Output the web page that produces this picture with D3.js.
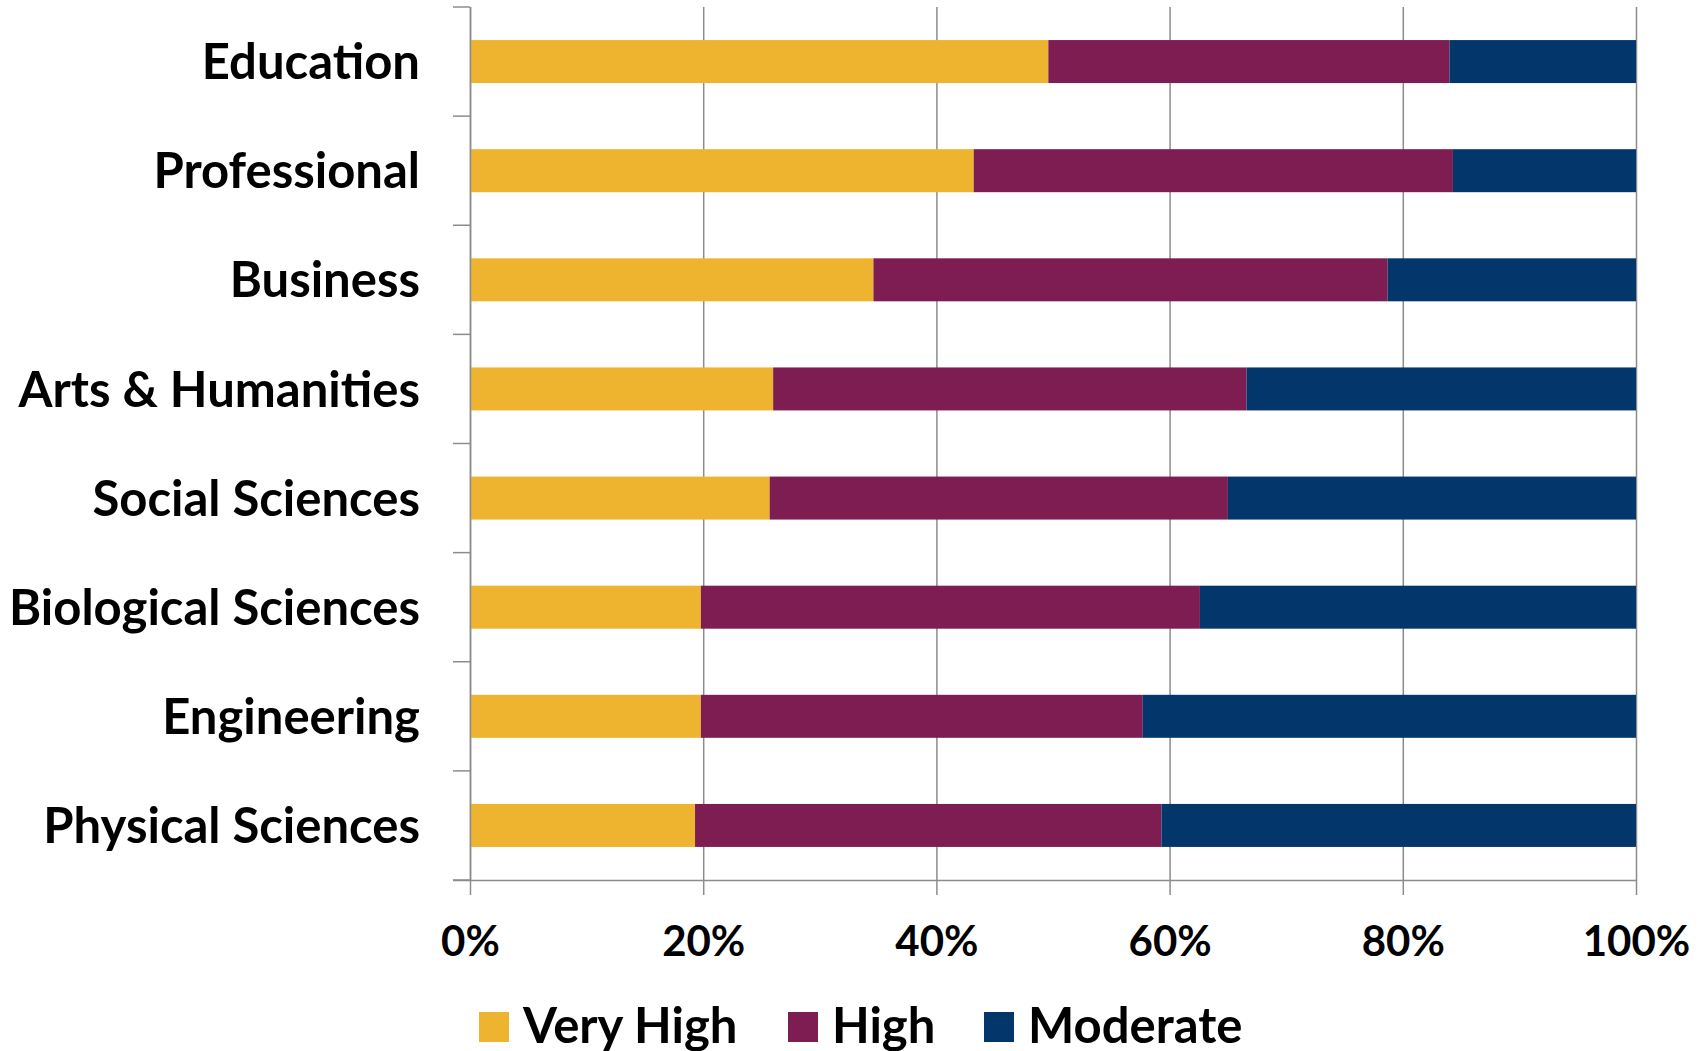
<!DOCTYPE html>
<html>
<head>
<meta charset="utf-8">
<script src="https://cdn.jsdelivr.net/npm/d3@7"></script>
<style>
  html, body { margin: 0; padding: 0; background: #ffffff; }
  svg { display: block; }
  text { font-family: Lato, "Open Sans", sans-serif; font-weight: 700; fill: #000; }
</style>
</head>
<body>
<svg id="chart" width="1707" height="1051"></svg>
<script>
// Share of respondents in each rating, by field of study (percent)
const categories = [
  "Education", "Professional", "Business", "Arts & Humanities",
  "Social Sciences", "Biological Sciences", "Engineering", "Physical Sciences"
];
const veryHigh = [49.6, 43.2, 34.6, 26.0, 25.7, 19.8, 19.8, 19.3];
const high     = [34.4, 41.1, 44.1, 40.6, 39.3, 42.8, 37.9, 40.0];
const moderate = [16.0, 15.7, 21.3, 33.4, 35.0, 37.4, 42.3, 40.7];
const seriesNames = ["Very High", "High", "Moderate"];
const seriesColors = ["#EEB32F", "#7D1D51", "#03376B"];
const xTicks = [0, 20, 40, 60, 80, 100];

const rows = categories.map((c, i) => ({
  category: c, "Very High": veryHigh[i], "High": high[i], "Moderate": moderate[i]
}));

const svg = d3.select("#chart");
const plot = { left: 470, right: 1636, top: 7, bottom: 880 };
const gridColor = "#8C8C8C";

const x = d3.scaleLinear().domain([0, 100]).range([plot.left, plot.right]);
const y = d3.scaleBand().domain(categories)
  .range([plot.top, plot.bottom])
  .paddingInner(0.606).paddingOuter(0.303);
const color = d3.scaleOrdinal().domain(seriesNames).range(seriesColors);

// Vertical gridlines
const grid = svg.append("g")
  .attr("transform", `translate(0,${plot.bottom})`)
  .call(d3.axisBottom(x).tickValues(xTicks)
    .tickSize(-(plot.bottom - plot.top)).tickFormat(""));
grid.select(".domain").remove();
grid.selectAll("line").attr("stroke", gridColor).attr("stroke-width", 1.5);

// Stacked bars
const stacked = d3.stack().keys(seriesNames)(rows);
svg.append("g").selectAll("g")
  .data(stacked).join("g")
  .attr("fill", d => color(d.key))
  .selectAll("rect")
  .data(d => d).join("rect")
  .attr("x", d => x(d[0]))
  .attr("y", d => y(d.data.category))
  .attr("width", d => x(d[1]) - x(d[0]))
  .attr("height", y.bandwidth());

// Bottom axis with percent labels
const xAxis = svg.append("g")
  .attr("transform", `translate(0,${plot.bottom})`)
  .call(d3.axisBottom(x).tickValues(xTicks)
    .tickSize(15).tickSizeOuter(0).tickPadding(31)
    .tickFormat(d => d + "%"));
xAxis.select(".domain").attr("stroke", gridColor).attr("stroke-width", 1.5)
  .attr("d", `M${plot.left - 17},0.5H${plot.right}`);
xAxis.selectAll("line").attr("stroke", gridColor).attr("stroke-width", 1.5);
xAxis.selectAll("text").style("font-size", "42px").style("font-family", "Lato, sans-serif").style("font-weight", 700);

// Left axis: category labels and band-boundary ticks
const yAxis = svg.append("g")
  .attr("transform", `translate(${plot.left},0)`)
  .call(d3.axisLeft(y).tickSize(0).tickPadding(50));
yAxis.select(".domain").attr("stroke", gridColor).attr("stroke-width", 1.5)
  .attr("d", `M0.5,${plot.top}V${plot.bottom}`);
yAxis.selectAll("text")
  .attr("dy", "0.36em")
  .style("font-size", "49px").style("font-family", "Lato, sans-serif").style("font-weight", 700);

const boundaries = d3.range(categories.length + 1).map(i => plot.top + i * y.step());
yAxis.append("g").selectAll("line")
  .data(boundaries).join("line")
  .attr("x1", -17).attr("x2", 0)
  .attr("y1", d => d).attr("y2", d => d)
  .attr("stroke", gridColor).attr("stroke-width", 1.5);

// Legend
const legendX = [479, 788, 984];
const legend = svg.append("g").attr("transform", "translate(0,1012)");
const items = legend.selectAll("g")
  .data(seriesNames).join("g")
  .attr("transform", (d, i) => `translate(${legendX[i]},0)`);
items.append("rect")
  .attr("width", 30).attr("height", 30)
  .attr("fill", d => color(d));
items.append("text")
  .attr("x", 44).attr("y", 31)
  .style("font-size", "49px")
  .text(d => d);
</script>
</body>
</html>
